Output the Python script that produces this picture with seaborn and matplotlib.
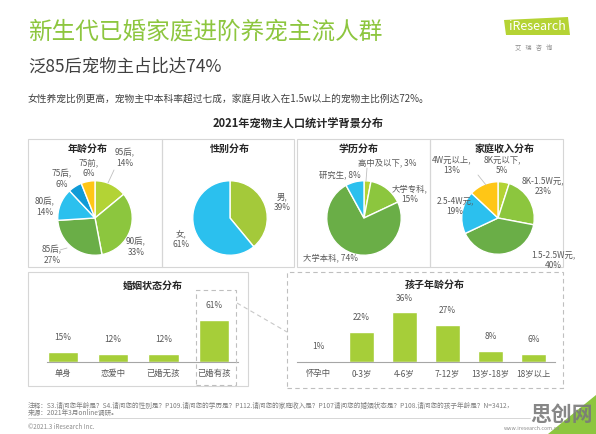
import matplotlib
matplotlib.use('Agg')
import matplotlib.pyplot as plt
import seaborn as sns
from matplotlib.patches import Rectangle, Polygon
from matplotlib.lines import Line2D

sns.set_style('white')
plt.rcParams['font.family'] = ['Noto Sans CJK SC', 'DejaVu Sans']

# data
age_labels = ['95后', '90后', '85后', '80后', '75后', '75前']
age_values = [14, 33, 27, 14, 6, 6]
gender_labels = ['男', '女']
gender_values = [39, 61]
edu_labels = ['高中及以下', '大学专科', '大学本科', '研究生']
edu_values = [3, 15, 74, 8]
income_labels = ['8K元以下', '8K-1.5W元', '1.5-2.5W元', '2.5-4W元', '4W元以上']
income_values = [5, 23, 40, 19, 13]
marriage_labels = ['单身', '恋爱中', '已婚无孩', '已婚有孩']
marriage_values = [15, 12, 12, 61]
child_labels = ['怀孕中', '0-3岁', '4-6岁', '7-12岁', '13岁-18岁', '18岁以上']
child_values = [1, 22, 36, 27, 8, 6]

W, H = 596, 434
GREEN_T = '#8dc63f'
BAR = '#a6ce39'
TXT = '#595959'
C_LG, C_G, C_DG = '#b3d335', '#8cc63e', '#6aae47'
C_CY, C_BL, C_YE = '#2bc0ee', '#109bd7', '#ffc616'


def fx(x):
    return x / W


def fy(y):
    return 1 - y / H


fig = plt.figure(figsize=(W / 100, H / 100), dpi=100)
fig.patch.set_facecolor('white')


def txt(x, y, s, size=6, color=TXT, ha='center', va='center', **kw):
    fig.text(fx(x), fy(y), s, fontsize=size, color=color, ha=ha, va=va,
             linespacing=1.2, **kw)


def box(x0, y0, x1, y1, ls='-', color='#d6d6d6', lw=0.8):
    fig.add_artist(Rectangle((fx(x0), fy(y1)), fx(x1) - fx(x0), fy(y0) - fy(y1),
                             transform=fig.transFigure, fill=False,
                             edgecolor=color, linestyle=ls, linewidth=lw))


def seg(x0, y0, x1, y1, color='#bfbfbf', ls='-', lw=0.6):
    fig.add_artist(Line2D([fx(x0), fx(x1)], [fy(y0), fy(y1)],
                          transform=fig.transFigure, color=color,
                          linestyle=ls, linewidth=lw))


# header
txt(28, 32, '新生代已婚家庭进阶养宠主流人群', size=17, color=GREEN_T, ha='left')
txt(28, 67, '泛85后宠物主占比达74%', size=12.5, color='#404040', ha='left')
txt(28, 99, '女性养宠比例更高，宠物主中本科率超过七成，家庭月收入在1.5w以上的宠物主比例达72%。',
    size=7, color='#404040', ha='left')

# logo
fig.add_artist(Polygon([(fx(506), fy(35)), (fx(570), fy(35)), (fx(568), fy(17)), (fx(504), fy(20))],
                       closed=True, transform=fig.transFigure, facecolor='#b5d334', edgecolor='none'))
txt(537, 27, 'iResearch', size=9, color='white')
txt(534, 48, '艾   瑞   咨   询', size=4.5, color='#8c8c8c')

txt(298, 124, '2021年宠物主人口统计学背景分布', size=8, color='#262626', weight='bold')

# pie panels
box(28, 139, 162, 267)
box(162, 139, 294, 267)
box(297, 139, 430, 267)
box(430, 139, 563, 267)


def pie(cx, cy, r, values, colors):
    ax = fig.add_axes([fx(cx - r), fy(cy + r), 2 * r / W, 2 * r / H])
    ax.pie(values, colors=colors, startangle=90, counterclock=False, radius=1,
           wedgeprops=dict(edgecolor='white', linewidth=1.0))
    ax.set_xlim(-1.02, 1.02)
    ax.set_ylim(-1.02, 1.02)
    ax.axis('off')
    return ax


pie(95, 218, 38, age_values, [C_LG, C_G, C_DG, C_CY, C_BL, C_YE])
pie(230, 218, 38, gender_values, ['#a4c93a', C_CY])
pie(364, 218, 38, edu_values, [C_LG, C_G, C_DG, C_CY])
pie(498, 218, 37, income_values, [C_LG, C_G, C_DG, C_CY, C_YE])

txt(88, 149, '年龄分布', size=7.2, color='#262626', weight='bold')
txt(230, 149, '性别分布', size=7.2, color='#262626', weight='bold')
txt(358, 149, '学历分布', size=7.2, color='#262626', weight='bold')
txt(505, 149, '家庭收入分布', size=7.2, color='#262626', weight='bold')

# age labels
txt(125, 158, f'{age_labels[0]},\n{age_values[0]}%')
txt(136, 247, f'{age_labels[1]},\n{age_values[1]}%')
txt(52, 255, f'{age_labels[2]},\n{age_values[2]}%')
txt(45, 207, f'{age_labels[3]},\n{age_values[3]}%')
txt(62, 179, f'{age_labels[4]},\n{age_values[4]}%')
txt(89, 168, f'{age_labels[5]},\n{age_values[5]}%')
seg(60, 250, 67, 248)
seg(114, 170, 108, 183)

# gender labels
txt(282, 202, f'{gender_labels[0]},\n{gender_values[0]}%')
txt(181, 239, f'{gender_labels[1]},\n{gender_values[1]}%')

# education labels
txt(387, 163, f'{edu_labels[0]}, {edu_values[0]}%')
txt(410, 194, f'{edu_labels[1]},\n{edu_values[1]}%')
txt(331, 258, f'{edu_labels[2]}, {edu_values[2]}%')
txt(340, 175, f'{edu_labels[3]}, {edu_values[3]}%')
seg(367, 168, 366, 181)

# income labels
txt(502, 165, f'{income_labels[0]},\n{income_values[0]}%')
txt(543, 186, f'{income_labels[1]},\n{income_values[1]}%')
txt(553, 260, f'{income_labels[2]},\n{income_values[2]}%')
txt(455, 206, f'{income_labels[3]},\n{income_values[3]}%')
txt(452, 165, f'{income_labels[4]},\n{income_values[4]}%')
seg(478, 175, 486, 185)

# bar panels
box(28, 272, 248, 386)
box(287, 272, 563, 388, ls=(0, (4, 3)), color='#bfbfbf')
box(196, 290, 236, 385, ls=(0, (4, 3)), color='#bfbfbf')
seg(237, 303, 287, 332, ls=(0, (4, 3)), color='#c8c8c8', lw=0.8)

txt(153, 286, '婚姻状态分布', size=7.2, color='#262626', weight='bold')
txt(435, 285, '孩子年龄分布', size=7.2, color='#262626', weight='bold')


def bars(x0, x1, ytop, ybase, labels, values, xlim, ymax):
    ax = fig.add_axes([fx(x0), fy(ybase), (x1 - x0) / W, (ybase - ytop) / H])
    sns.barplot(x=labels, y=values, ax=ax, color=BAR, width=0.6, saturation=1)
    ax.bar_label(ax.containers[0], labels=[f'{v}%' for v in values],
                 padding=7, fontsize=6, color=TXT)
    ax.set_xlim(*xlim)
    ax.set_ylim(0, ymax)
    ax.set_facecolor('none')
    for s in ['top', 'right', 'left']:
        ax.spines[s].set_visible(False)
    ax.spines['bottom'].set_color('#a6a6a6')
    ax.spines['bottom'].set_linewidth(0.8)
    ax.set_yticks([])
    ax.tick_params(axis='x', length=0, pad=5, labelsize=6, colors=TXT)
    ax.set_xlabel('')
    ax.set_ylabel('')
    return ax


bars(47, 238, 293, 362, marriage_labels, marriage_values, (-0.31, 3.48), 100)
bars(297, 555, 293, 362, child_labels, child_values, (-0.5, 5.5), 50)

# footer
txt(28, 406, '注释：S3.请问您年龄是？S4.请问您的性别是？P109.请问您的学历是？P112.请问您的家庭收入是？'
    'P107请问您的婚姻状态是？P108.请问您的孩子年龄是？N=3412，',
    size=4.8, color='#7f7f7f', ha='left')
txt(28, 413, '来源：2021年3月online调研。', size=4.8, color='#7f7f7f', ha='left')
seg(28, 418, 530, 418, color='#d0d0d0', lw=0.6)
txt(28, 427, '©2021.3 iResearch Inc.', size=4.5, color='#8c8c8c', ha='left')
txt(560, 428, 'www.iresearch.com.cn', size=3.8, color='#8c8c8c', ha='right')

# watermark corner
fig.add_artist(Polygon([(fx(596), fy(395)), (fx(596), fy(434)), (fx(548), fy(434))],
                       closed=True, transform=fig.transFigure, facecolor='#8dc63f', edgecolor='none'))
txt(562, 414, '思创网', size=15, color='#7a7a7a', weight='bold', alpha=0.9)

fig.savefig('out.png', dpi=100)
